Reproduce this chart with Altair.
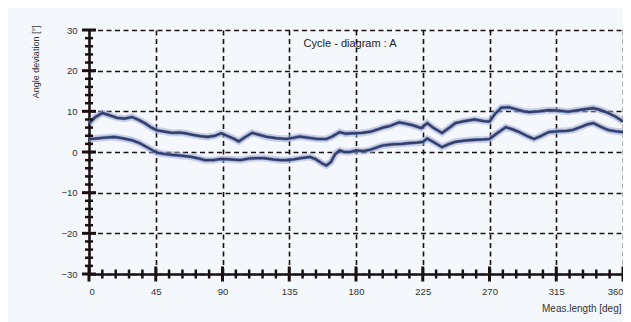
import altair as alt
import pandas as pd

# ---- data ----
upper_deg = [0, 4, 9, 14, 19, 24, 29, 34, 38, 42, 46, 51, 56, 61, 65, 70, 75, 80, 85, 89,
             93, 98, 101, 105, 110, 115, 120, 126, 133, 138, 142, 148, 154, 160, 164, 169,
             173, 177, 184, 190, 195, 198, 203, 209, 213, 218, 224, 228, 232, 238, 243, 247,
             253, 260, 266, 270, 274, 278, 283, 288, 293, 297, 303, 310, 316, 323, 330, 336,
             340, 345, 350, 355, 360]
upper_val = [7.0, 8.5, 9.6, 9.0, 8.4, 8.2, 8.6, 7.8, 7.0, 6.0, 5.3, 5.0, 4.7, 4.8, 4.6, 4.2,
             3.9, 3.7, 4.0, 4.6, 4.0, 3.2, 2.6, 3.6, 4.7, 4.2, 3.7, 3.4, 3.2, 3.5, 3.8, 3.5,
             3.2, 3.2, 3.8, 4.9, 4.5, 4.6, 4.7, 5.0, 5.6, 6.0, 6.4, 7.3, 7.0, 6.6, 5.9, 7.1,
             6.0, 4.7, 6.0, 7.1, 7.6, 8.0, 7.6, 7.5, 9.5, 10.9, 11.0, 10.5, 10.0, 9.8, 10.0,
             10.3, 10.2, 9.9, 10.3, 10.6, 10.8, 10.3, 9.6, 8.7, 7.5]

lower_deg = [0, 4, 10, 17, 22, 29, 34, 39, 43, 46, 51, 56, 62, 69, 74, 78, 84, 89, 95, 102,
             108, 113, 118, 124, 129, 133, 138, 143, 149, 153, 157, 160, 163, 166, 169, 172,
             176, 180, 185, 190, 198, 205, 211, 216, 221, 225, 228, 232, 238, 243, 247, 253,
             260, 266, 270, 275, 281, 286, 290, 295, 300, 305, 310, 316, 322, 326, 332, 336,
             340, 345, 350, 355, 360]
lower_val = [3.2, 3.3, 3.5, 3.7, 3.4, 2.9, 2.2, 1.2, 0.4, -0.2, -0.5, -0.7, -0.9, -1.2, -1.6,
             -2.0, -2.0, -1.7, -1.8, -2.0, -1.6, -1.5, -1.5, -1.8, -2.0, -2.0, -1.8, -1.5,
             -1.2, -1.8, -2.8, -3.3, -2.5, -0.5, 0.4, 0.0, 0.0, 0.4, 0.2, 0.6, 1.6, 1.9, 2.0,
             2.2, 2.3, 2.5, 3.3, 2.5, 1.2, 2.0, 2.5, 2.8, 3.0, 3.1, 3.2, 4.6, 6.1, 5.5, 4.9,
             4.0, 3.2, 4.0, 4.9, 5.1, 5.2, 5.4, 6.2, 6.8, 7.1, 6.2, 5.4, 5.1, 4.9]

x_major = [0, 45, 90, 135, 180, 225, 270, 315, 360]
x_minor = [v for v in range(0, 361, 9) if v % 45 != 0]
y_major = [-30, -20, -10, 0, 10, 20, 30]
y_minor = [v for v in range(-30, 31, 2) if v % 10 != 0]

title_text = "Cycle - diagram : A"
title_pos = (176, 26.6)

W, H = 534, 244
INK = "#1a1212"
FONT = "Liberation Sans"

df = pd.concat([
    pd.DataFrame({"deg": upper_deg, "val": upper_val, "curve": "upper"}),
    pd.DataFrame({"deg": lower_deg, "val": lower_val, "curve": "lower"}),
])

xs = alt.Scale(domain=[0, 360], nice=False, zero=False)
ys = alt.Scale(domain=[-30, 30], nice=False, zero=False)

base = alt.Chart(df)

grid = base.mark_point(opacity=0).encode(
    x=alt.X("deg:Q", scale=xs, axis=alt.Axis(
        values=x_major, grid=True, gridColor=INK, gridDash=[5, 3.5], gridWidth=1.6,
        ticks=False, domainColor=INK, domainWidth=2.5, labelFont=FONT, labelFontSize=9.5,
        labelColor="#333333", labelPadding=12, title="Meas.length [deg]",
        titleFont=FONT, titleFontSize=10, titleFontWeight="normal", titleColor="#333333",
        titleAnchor="end", titleAlign="right", titleX=W - 2, titleY=34,
        titleBaseline="middle")),
    y=alt.Y("val:Q", scale=ys, axis=alt.Axis(
        values=y_major, grid=True, gridColor=INK, gridDash=[5, 3.5], gridWidth=1.6,
        ticks=False, domainColor=INK, domainWidth=2.5, labelFont=FONT, labelFontSize=9.5,
        labelColor="#333333", labelPadding=12, labelBaseline="middle",
        title="Angle deviation [°]", titleFont=FONT, titleFontSize=9,
        titleFontWeight="normal", titleColor="#333333", titleAngle=270,
        titleAlign="right", titleX=-54, titleY=-5, titleBaseline="middle")),
)

halo = base.mark_line(strokeWidth=7, color="#aab0d4", opacity=0.55).encode(
    x=alt.X("deg:Q", scale=xs), y=alt.Y("val:Q", scale=ys), detail="curve:N")
salmon = base.mark_line(strokeWidth=1.2, color="#d59a88", opacity=0.8).encode(
    x=alt.X("deg:Q", scale=xs), y=alt.Y("val:Q", scale=ys), detail="curve:N")
blue = base.mark_line(strokeWidth=3.4, color="#4a6db0", opacity=0.7).encode(
    x=alt.X("deg:Q", scale=xs), y=alt.Y("val:Q", scale=ys), detail="curve:N")
core = base.mark_line(strokeWidth=2.2, color="#2f3560", opacity=0.9).encode(
    x=alt.X("deg:Q", scale=xs), y=alt.Y("val:Q", scale=ys), detail="curve:N")

ymaj = alt.Chart(pd.DataFrame({"v": y_major})).mark_tick(
    orient="horizontal", size=14, thickness=3, color=INK, opacity=1).encode(
    y=alt.Y("v:Q", scale=ys), x=alt.value(0))
ymin = alt.Chart(pd.DataFrame({"v": y_minor})).mark_tick(
    orient="horizontal", size=8, thickness=2.5, color=INK, opacity=1).encode(
    y=alt.Y("v:Q", scale=ys), x=alt.value(0))
xmaj = alt.Chart(pd.DataFrame({"v": x_major})).mark_tick(
    orient="vertical", size=15, thickness=3, color=INK, opacity=1).encode(
    x=alt.X("v:Q", scale=xs), y=alt.value(H))
xmin = alt.Chart(pd.DataFrame({"v": x_minor})).mark_tick(
    orient="vertical", size=9, thickness=2.5, color=INK, opacity=1).encode(
    x=alt.X("v:Q", scale=xs), y=alt.value(H))

title = alt.Chart(pd.DataFrame({"x": [title_pos[0]], "y": [title_pos[1]], "t": [title_text]})).mark_text(
    font=FONT, fontSize=11, color="#222222", align="center", baseline="middle").encode(
    x=alt.X("x:Q", scale=xs), y=alt.Y("y:Q", scale=ys), text="t:N")

chart = alt.layer(grid, halo, salmon, blue, core, ymin, ymaj, xmin, xmaj, title).properties(
    width=W, height=H,
    autosize=alt.AutoSizeParams(type="none"),
    padding={"left": 81, "top": 22, "right": 0, "bottom": 48},
    background="#f4f7fb",
).configure_view(stroke=None)

chart.save("out.html", embed_options={"renderer": "svg", "actions": False})
